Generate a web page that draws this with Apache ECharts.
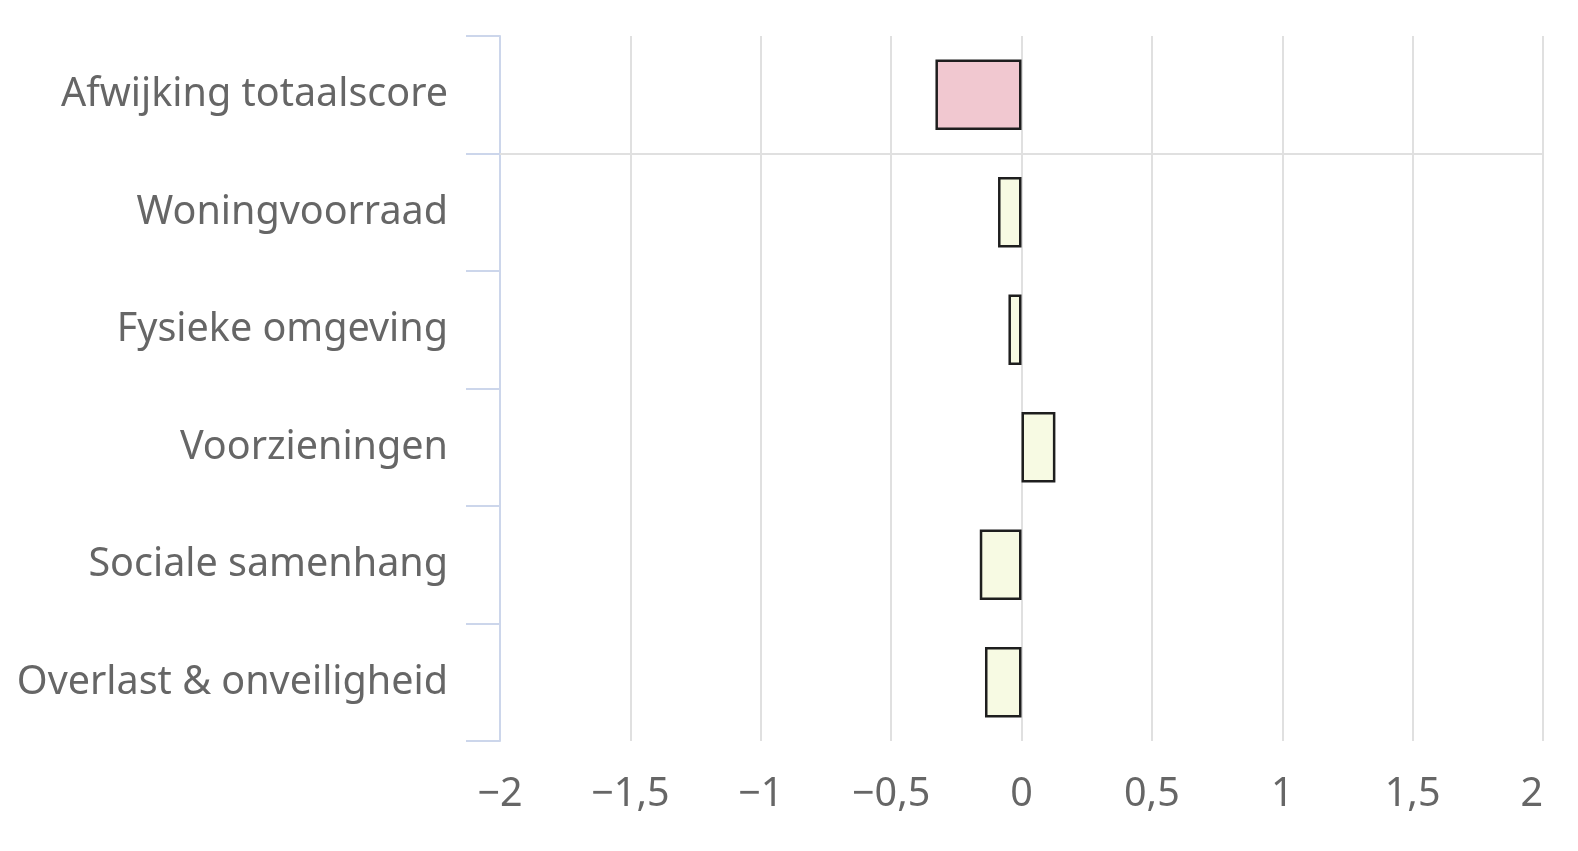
<!DOCTYPE html>
<html>
<head>
<meta charset="utf-8">
<script src="https://cdn.jsdelivr.net/npm/echarts@6/dist/echarts.min.js"></script>
<style>
  html, body { margin: 0; padding: 0; background: #fff; }
  #main { width: 1578px; height: 851px; }
</style>
</head>
<body>
<div id="main"></div>
<script>
// Data
var categories = ['Afwijking totaalscore', 'Woningvoorraad', 'Fysieke omgeving', 'Voorzieningen', 'Sociale samenhang', 'Overlast & onveiligheid'];
var values = [-0.33, -0.09, -0.05, 0.13, -0.16, -0.14];
var barColors = ['#f1c8d0', '#f7fae3', '#f7fae3', '#f7fae3', '#f7fae3', '#f7fae3'];
// separator between the total and the sub scores (in category units from top)
var separatorAt = [1];

var fontFamily = '"Noto Sans", "DejaVu Sans", sans-serif';

function fmt(v) {
	// Dutch notation: comma decimals, real minus sign
	return String(v).replace('.', ',').replace('-', '\u2212');
}

var myChart = echarts.init(document.getElementById('main'));

var option = {
	backgroundColor: '#fff',
	animation: false,
	grid: {
		left: 500,
		right: 35,
		top: 36,
		bottom: 110,
		containLabel: false
	},
	xAxis: {
		type: 'value',
		min: -2,
		max: 2,
		interval: 0.5,
		axisLine: { show: false },
		axisTick: { show: false },
		axisLabel: {
			color: '#666',
			fontSize: 39.5,
			fontFamily: fontFamily,
			margin: 34,
			alignMaxLabel: 'right',
			formatter: fmt
		},
		splitLine: {
			show: true,
			lineStyle: { color: '#e0e0e0', width: 2 }
		}
	},
	yAxis: [{
		type: 'category',
		inverse: true,
		data: categories,
		axisLine: {
			show: true,
			onZero: false,
			lineStyle: { color: '#ccd6eb', width: 2 }
		},
		axisTick: {
			show: true,
			length: 34,
			lineStyle: { color: '#ccd6eb', width: 2 }
		},
		axisLabel: {
			color: '#666',
			fontSize: 39.5,
			fontFamily: fontFamily,
			margin: 52
		},
		splitLine: { show: false }
	}, {
		type: 'value',
		show: false,
		min: 0,
		max: 6,
		inverse: true,
		splitLine: { show: false }
	}],
	series: [{
		name: 'score',
		type: 'bar',
		barWidth: '60%',
		data: values.map(function (v, i) {
			return {
				value: v,
				itemStyle: { color: barColors[i] }
			};
		}),
		itemStyle: {
			borderColor: '#1e1e1e',
			borderWidth: 2.5
		},
		z: 3
	}, {
		name: 'separator',
		type: 'line',
		yAxisIndex: 1,
		data: [],
		markLine: {
			silent: true,
			symbol: 'none',
			label: { show: false },
			lineStyle: { color: '#e0e0e0', width: 2, type: 'solid' },
			data: separatorAt.map(function (y) { return { yAxis: y }; })
		}
	}]
};

myChart.setOption(option);
</script>
</body>
</html>
